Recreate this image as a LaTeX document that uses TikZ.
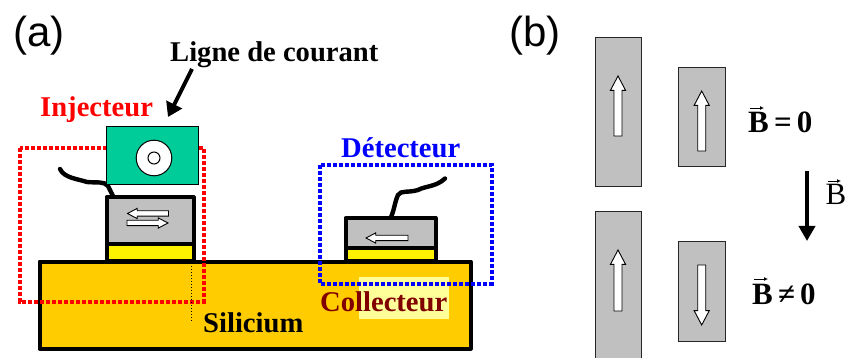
\documentclass[tikz,border=0pt]{standalone}
\usepackage{fontspec}
\setmainfont{Liberation Serif}
\newfontfamily\helv{Liberation Sans}
\usetikzlibrary{arrows.meta}
\definecolor{silicon}{HTML}{FFCC00}
\definecolor{greenbox}{HTML}{00CC99}
\definecolor{greybox}{HTML}{C0C0C0}
\definecolor{highlight}{HTML}{FFFF99}
\definecolor{darkred}{HTML}{800000}
\definecolor{purered}{HTML}{FF0000}
\definecolor{pureblue}{HTML}{0000FF}
\newcommand{\hollowarrow}[5]{% x, y, rotation (0 = right, 90 = up), length, half shaft width
  \draw[hollow,shift={(#1,#2)},rotate=#3]
    (0,{-#5}) -- ({#4-#5*3.6},{-#5}) -- ({#4-#5*3.6},{-#5*1.9}) -- (#4,0) -- ({#4-#5*3.6},{#5*1.9}) -- ({#4-#5*3.6},#5) -- (0,#5) -- cycle;}
\tikzset{
  x=1pt,y=-1pt,
  hollow/.style={draw=black,fill=white,line width=0.9pt,line join=miter},
  thickbox/.style={draw=black,line width=4pt,line join=round},
  bar/.style={draw=black!85,fill=greybox,line width=1pt},
  wire/.style={draw=black,line width=4.4pt,line cap=round},
  dotbox/.style={line width=4pt,dash pattern=on 3.8pt off 2.2pt},
  title/.style={font=\bfseries\fontsize{28.6}{28.6}\selectfont,inner sep=0pt,anchor=base west},
  panel/.style={font=\helv\fontsize{42}{42}\selectfont,inner sep=0pt,anchor=base west},
  eq/.style={font=\bfseries\fontsize{31}{31}\selectfont,inner sep=0pt,anchor=base west},
  vecbar/.style={draw=black,line width=0.9pt,-{Latex[length=4pt,width=4pt]}},
  blackarrow/.style={draw=black,line width=3.6pt,-{Triangle[length=15pt,width=16pt]}}
}
\begin{document}
\begin{tikzpicture}
\useasboundingbox (0,0) rectangle (846,358);
% silicon
\path[fill=silicon,thickbox] (39.5,261.5) rectangle (470.5,348.5);
\path[fill=highlight] (359,277) rectangle (449,319);
% injector stack
\path[fill=yellow,thickbox] (106.5,244) rectangle (193.5,261);
\path[fill=greybox,thickbox] (106.5,197.5) rectangle (193.5,244);
\hollowarrow{168.5}{213.5}{180}{41}{2.7}
\hollowarrow{127}{223}{0}{41}{2.7}
% detector stack
\path[fill=yellow,thickbox] (345.5,248) rectangle (435.5,261);
\path[fill=greybox,thickbox] (345.5,218) rectangle (435.5,248);
\hollowarrow{408}{238}{180}{42}{2.7}
% wires
\draw[wire] (60,169) .. controls (64,178) and (78,179) .. (87,182) .. controls (97,183) and (104,181) .. (108,186) -- (113,196);
\draw[wire] (445,178.5) .. controls (436,187) and (425,186) .. (418,190) .. controls (408,193) and (401,190) .. (398,195) .. controls (395,201) and (394,211) .. (391,217);
% dotted frames
\draw[dotbox,purered] (19.5,148) rectangle (203.5,301.5);
\draw[dotbox,pureblue] (319.5,165) rectangle (491.5,283.5);
\draw[black,line width=1pt,dotted] (191.5,263) -- (191.5,321);
% current line box
\path[draw=black,fill=greenbox,line width=1pt] (106,127) rectangle (198.5,185);
\path[draw=black,fill=white,line width=1pt] (154,158) circle (17.8);
\path[draw=black,fill=white,line width=1pt] (154,158) circle (6);
% labels (a)
\node[panel] (pa) at (13,47) {(a)};
\node[title] (ligne) at (170,62) {Ligne de courant};
\node[title,purered] (inj) at (40,117) {Injecteur};
\node[title,pureblue] (det) at (341,158) {Détecteur};
\node[title] (sil) at (203,332) {Silicium};
\node[title,darkred] (col) at (320,311) {Collecteur};
\coordinate (ligneA) at (192,69);
\coordinate (ligneB) at (168,117);
\draw[draw=black,line width=4pt,-{Triangle[length=14pt,width=17pt]}] (ligneA) -- (ligneB);
% panel (b)
\node[panel] (pb) at (509,47) {(b)};
\path[bar] (595.5,37.5) rectangle (641.5,187);
\path[bar] (678.5,67.5) rectangle (725,167);
\path[bar] (595.5,212) rectangle (641.5,362);
\path[bar] (678.5,242) rectangle (725,341);
\hollowarrow{618}{136}{90}{60}{4}
\hollowarrow{701.7}{151}{90}{60}{4}
\hollowarrow{618}{311}{90}{61}{4}
\hollowarrow{701.7}{265}{-90}{60}{4}
\coordinate (bA) at (807,171);
\coordinate (bB) at (807,241);
\draw[blackarrow] (bA) -- (bB);
\node[eq] (b0) at (748,133) {B\,=\,0};
\draw[vecbar] (750,108) -- (764,108);
\node[eq] (b1) at (752,304) {B\,≠\,0};
\draw[vecbar] (754,279) -- (768,279);
\node[inner sep=0pt,anchor=base west,font=\fontsize{31}{31}\selectfont] (b2) at (825.5,205) {B};
\draw[vecbar] (828,181) -- (841,181);
\end{tikzpicture}
\end{document}
